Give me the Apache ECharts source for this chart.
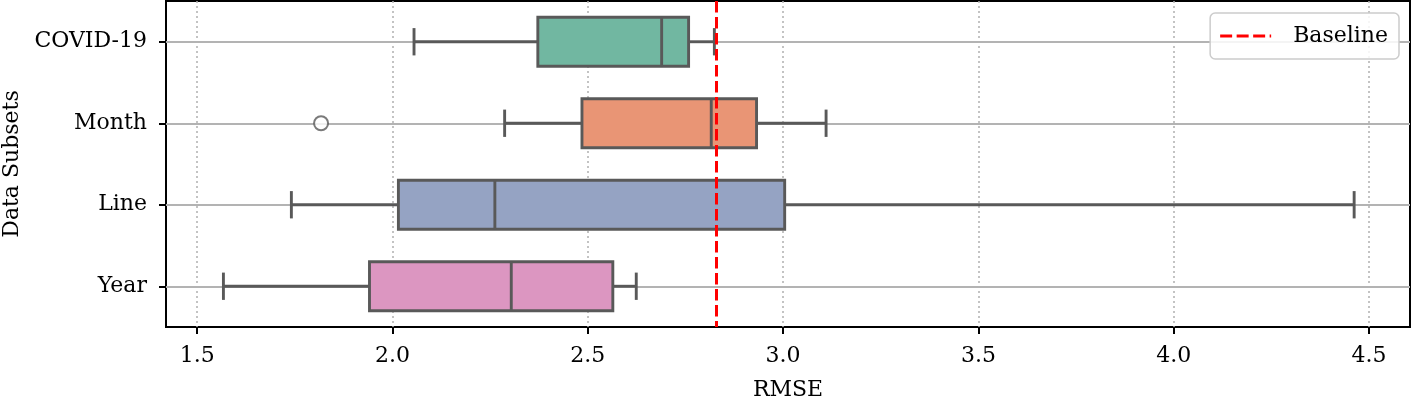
<!DOCTYPE html>
<html>
<head>
<meta charset="utf-8">
<script src="https://cdn.jsdelivr.net/npm/echarts@6/dist/echarts.min.js"></script>
<style>
  html, body { margin: 0; padding: 0; background: #fff; }
  #chart { width: 1413px; height: 397px; }
</style>
</head>
<body>
<div id="chart"></div>
<script>
// ---- data ----
const categories = ['COVID-19', 'Month', 'Line', 'Year'];
const whiskerLow  = [2.055, 2.287, 1.741, 1.567];
const q1          = [2.372, 2.485, 2.015, 1.941];
const median      = [2.689, 2.816, 2.262, 2.304];
const q3          = [2.758, 2.932, 3.004, 2.564];
const whiskerHigh = [2.824, 3.110, 4.462, 2.624];
const outliers    = [['Month', 1.817]];
const baseline    = 2.825;
const xTicks      = [1.5, 2.0, 2.5, 3.0, 3.5, 4.0, 4.5];

// ---- styles ----
const fills = ['#71b7a1', '#e99575', '#95a3c3', '#dc96c1'];
const edge = '#595959';
const FONT = 'DejaVu Serif';
const dashIcon = 'path://M0,0h12v3h-12z M16.5,0h12v3h-12z M33,0h12v3h-12z M49.5,0h1.5v3h-1.5z';

const boxData = categories.map((c, i) => [i, whiskerLow[i], q1[i], median[i], q3[i], whiskerHigh[i]]);

const chart = echarts.init(document.getElementById('chart'), null, { renderer: 'canvas' });

const option = {
  animation: false,
  backgroundColor: '#fff',
  grid: {
    left: 166, right: 3, top: 1, bottom: 70,
    outerBoundsMode: 'none', containLabel: false,
    show: true, borderColor: '#000', borderWidth: 2, backgroundColor: 'transparent'
  },
  legend: {
    right: 14, top: 13,
    data: [{ name: 'Baseline', icon: dashIcon }],
    itemWidth: 51, itemHeight: 3,
    padding: [11, 11, 11, 10],
    borderColor: '#cccccc', borderWidth: 1.5, borderRadius: 5,
    backgroundColor: 'rgba(255,255,255,0.85)',
    itemStyle: { color: '#ff0000' },
    textStyle: { fontFamily: FONT, fontSize: 22, color: '#000', padding: [0, 0, 0, 17], lineHeight: 24 }
  },
  xAxis: {
    type: 'value', min: 1.42, max: 4.605,
    name: 'RMSE', nameLocation: 'middle', nameGap: 52,
    nameTextStyle: { fontFamily: FONT, fontSize: 22, color: '#000' },
    axisLine: { show: true, lineStyle: { color: '#000', width: 2 } },
    axisTick: { show: true, length: 7, lineStyle: { color: '#000', width: 2 }, customValues: xTicks },
    axisLabel: { fontFamily: FONT, fontSize: 22, color: '#000', margin: 18, customValues: xTicks,
      formatter: v => Number(v).toFixed(1) },
    splitLine: { show: false }
  },
  yAxis: {
    type: 'category', data: categories, inverse: true,
    name: 'Data Subsets', nameLocation: 'middle', nameRotate: 90, nameGap: 142,
    nameTextStyle: { fontFamily: FONT, fontSize: 22, color: '#000' },
    axisLine: { show: true, lineStyle: { color: '#000', width: 2 } },
    axisTick: { show: true, alignWithLabel: true, length: 7, lineStyle: { color: '#000', width: 2 } },
    axisLabel: { fontFamily: FONT, fontSize: 22, color: '#000', margin: 19 },
    splitLine: { show: false }
  },
  series: [
    {
      // gridlines
      type: 'line', data: [], z: 1, silent: true, symbol: 'none',
      markLine: {
        silent: true, symbol: 'none', animation: false, label: { show: false }, z: 1,
        data: [
          ...xTicks.map(v => ({ xAxis: v, lineStyle: { color: '#b0b0b0', width: 1.5, type: [2, 3] } })),
          ...categories.map((c, i) => ({ yAxis: i, lineStyle: { color: '#b3b3b3', width: 2, type: 'solid' } }))
        ]
      }
    },
    {
      type: 'custom', z: 3,
      encode: { x: [1, 2, 3, 4, 5], y: 0 },
      data: boxData,
      renderItem: function (params, api) {
        const ci = api.value(0);
        const lo = api.coord([api.value(1), ci]);
        const a = api.coord([api.value(2), ci]);
        const m = api.coord([api.value(3), ci]);
        const b = api.coord([api.value(4), ci]);
        const hi = api.coord([api.value(5), ci]);
        const band = api.size([0, 1])[1];
        const bh = band * 0.6, ch = band * 0.335;
        const y = lo[1];
        const lw = 2.9;
        const ls = { stroke: edge, lineWidth: lw, fill: null };
        return {
          type: 'group',
          children: [
            { type: 'line', shape: { x1: lo[0], y1: y, x2: a[0], y2: y }, style: ls },
            { type: 'line', shape: { x1: b[0], y1: y, x2: hi[0], y2: y }, style: ls },
            { type: 'line', shape: { x1: lo[0], y1: y - ch / 2, x2: lo[0], y2: y + ch / 2 }, style: ls },
            { type: 'line', shape: { x1: hi[0], y1: y - ch / 2, x2: hi[0], y2: y + ch / 2 }, style: ls },
            { type: 'rect', shape: { x: a[0], y: y - bh / 2, width: b[0] - a[0], height: bh },
              style: { fill: fills[params.dataIndex], stroke: edge, lineWidth: lw } },
            { type: 'line', shape: { x1: m[0], y1: y - bh / 2, x2: m[0], y2: y + bh / 2 }, style: ls }
          ]
        };
      }
    },
    {
      type: 'scatter', z: 3,
      data: outliers.map(o => [o[1], o[0]]),
      symbol: 'emptyCircle', symbolSize: 14,
      itemStyle: { color: edge, borderColor: edge, borderWidth: 2.4 }
    },
    {
      name: 'Baseline', type: 'line', data: [], z: 5, symbol: 'none',
      lineStyle: { color: '#ff0000', width: 3, type: [11.5, 4.5] },
      itemStyle: { color: '#ff0000' },
      markLine: {
        silent: true, symbol: 'none', label: { show: false }, z: 6,
        lineStyle: { color: '#ff0000', width: 3, type: [11.5, 4.5] },
        data: [{ xAxis: baseline }]
      }
    }
  ]
};
chart.setOption(option);
</script>
</body>
</html>
